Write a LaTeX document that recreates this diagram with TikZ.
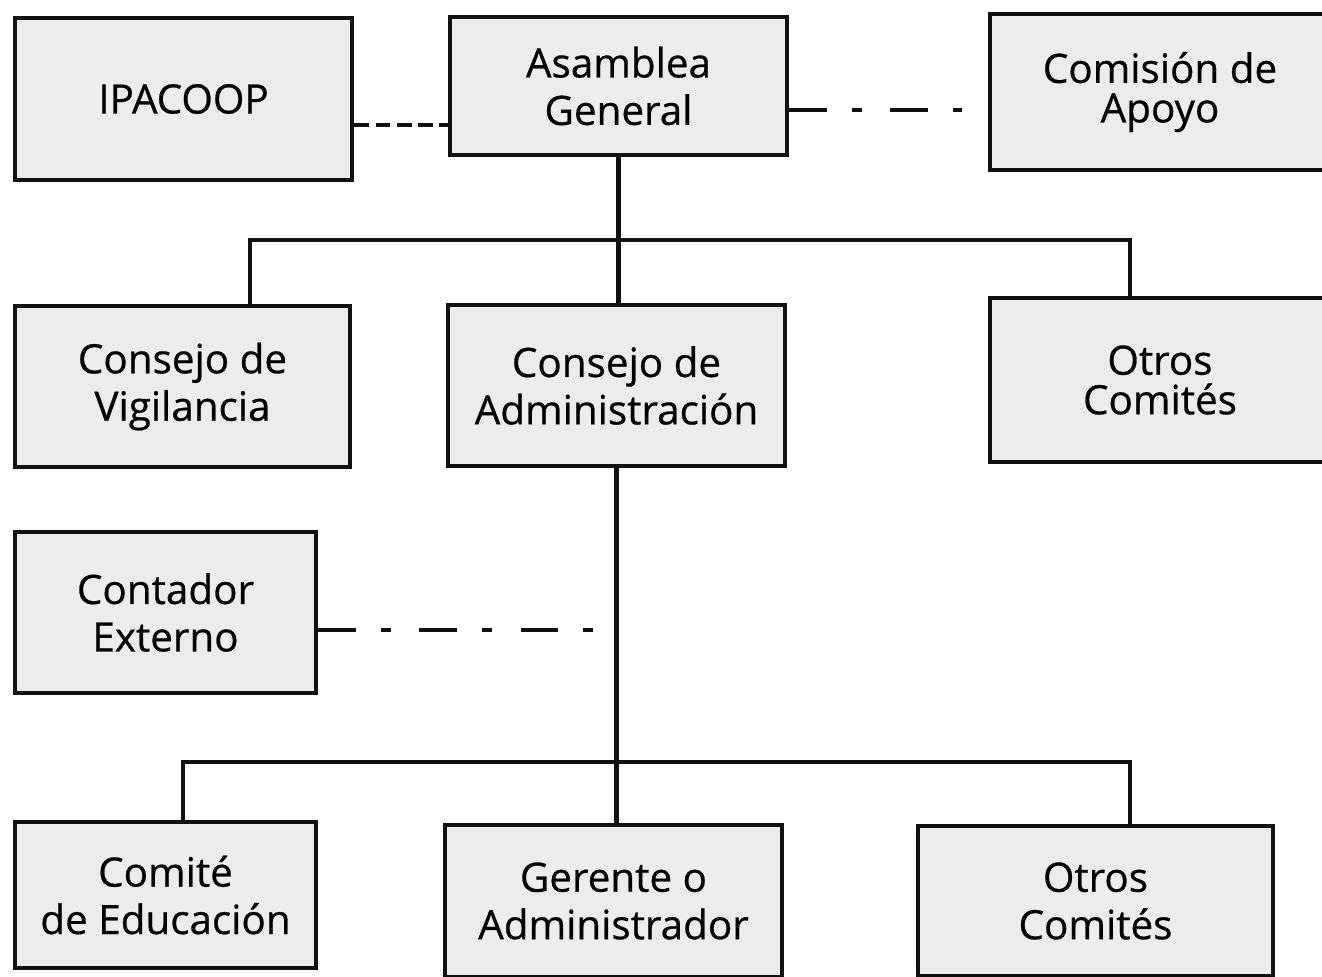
\documentclass[tikz,border=0pt]{standalone}
\usepackage{fontspec}
\setmainfont{Open Sans}
\newfontfamily\cajafuente{Open Sans}[FakeBold=0.6]
\usepackage{tikz}
\definecolor{cajagris}{HTML}{EEEBEF}
\definecolor{trazo}{HTML}{111111}
\tikzset{caja/.style 2 args={draw=trazo, fill=cajagris, line width=2.8pt, align=center, inner sep=0pt, minimum width=#1*0.02cm, minimum height=#2*0.02cm, font=\cajafuente\fontsize{23}{27}\selectfont}}
\tikzset{linea/.style={draw=trazo, line width=2.8pt}}
\tikzset{rayado/.style={linea, dash pattern=on 8.5pt off 3.5pt}}
\tikzset{rayapunto/.style={linea, dash pattern=on 21.5pt off 14pt on 6pt off 16pt}}

\begin{document}
\begin{tikzpicture}[x=0.02cm, y=-0.02cm]
    \useasboundingbox (0,0) rectangle (1322,977);
    \node[caja={337}{162}] (ipacoop) at (183.5,99) {IPACOOP};
    \node[caja={337}{138}] (asamblea) at (618.5,86) {Asamblea\\General};
    \node[caja={340}{156}, font=\cajafuente\fontsize{23}{22.5}\selectfont] (apoyo) at (1160,92) {Comisión de\\Apoyo};
    \node[caja={335}{161}] (vigilancia) at (182.5,386.5) {Consejo de\\Vigilancia};
    \node[caja={337}{161}] (consejo) at (616.5,385.5) {Consejo de\\Administración};
    \node[caja={340}{164}, font=\cajafuente\fontsize{23}{22.5}\selectfont] (otrosa) at (1160,380) {Otros\\Comités};
    \node[caja={301}{161}] (contador) at (165.5,612.5) {Contador\\Externo};
    \node[caja={301}{146}] (educacion) at (165.5,895) {Comité\\de Educación};
    \node[caja={337}{152}] (gerente) at (613.5,901) {Gerente o\\Administrador};
    \node[caja={355}{150}] (otrosb) at (1095.5,901) {Otros\\Comités};
    % enlaces de la asamblea
    \coordinate (finapoyo) at (962,110);
    \draw[rayado] (ipacoop.east |- 0,125) -- (asamblea.west |- 0,125);
    \draw[rayapunto] (asamblea.east |- finapoyo) -- (finapoyo);
    \draw[linea] (asamblea.south) -- (asamblea.south |- consejo.north);
    \coordinate (ramaaizq) at (250,240);
    \coordinate (ramaader) at (1130,240);
    \draw[linea] (ramaaizq |- vigilancia.north) -- (ramaaizq) -- (ramaader) -- (ramaader |- otrosa.north);
    % bajo el consejo
    \draw[linea] (consejo.south) -- (consejo.south |- gerente.north);
    \coordinate (fincontador) at (600,630);
    \draw[rayapunto] (contador.east |- fincontador) -- (fincontador);
    \coordinate (ramabizq) at (183,762);
    \coordinate (ramabder) at (1130,762);
    \draw[linea] (ramabizq |- educacion.north) -- (ramabizq) -- (ramabder) -- (ramabder |- otrosb.north);
\end{tikzpicture}
\end{document}
